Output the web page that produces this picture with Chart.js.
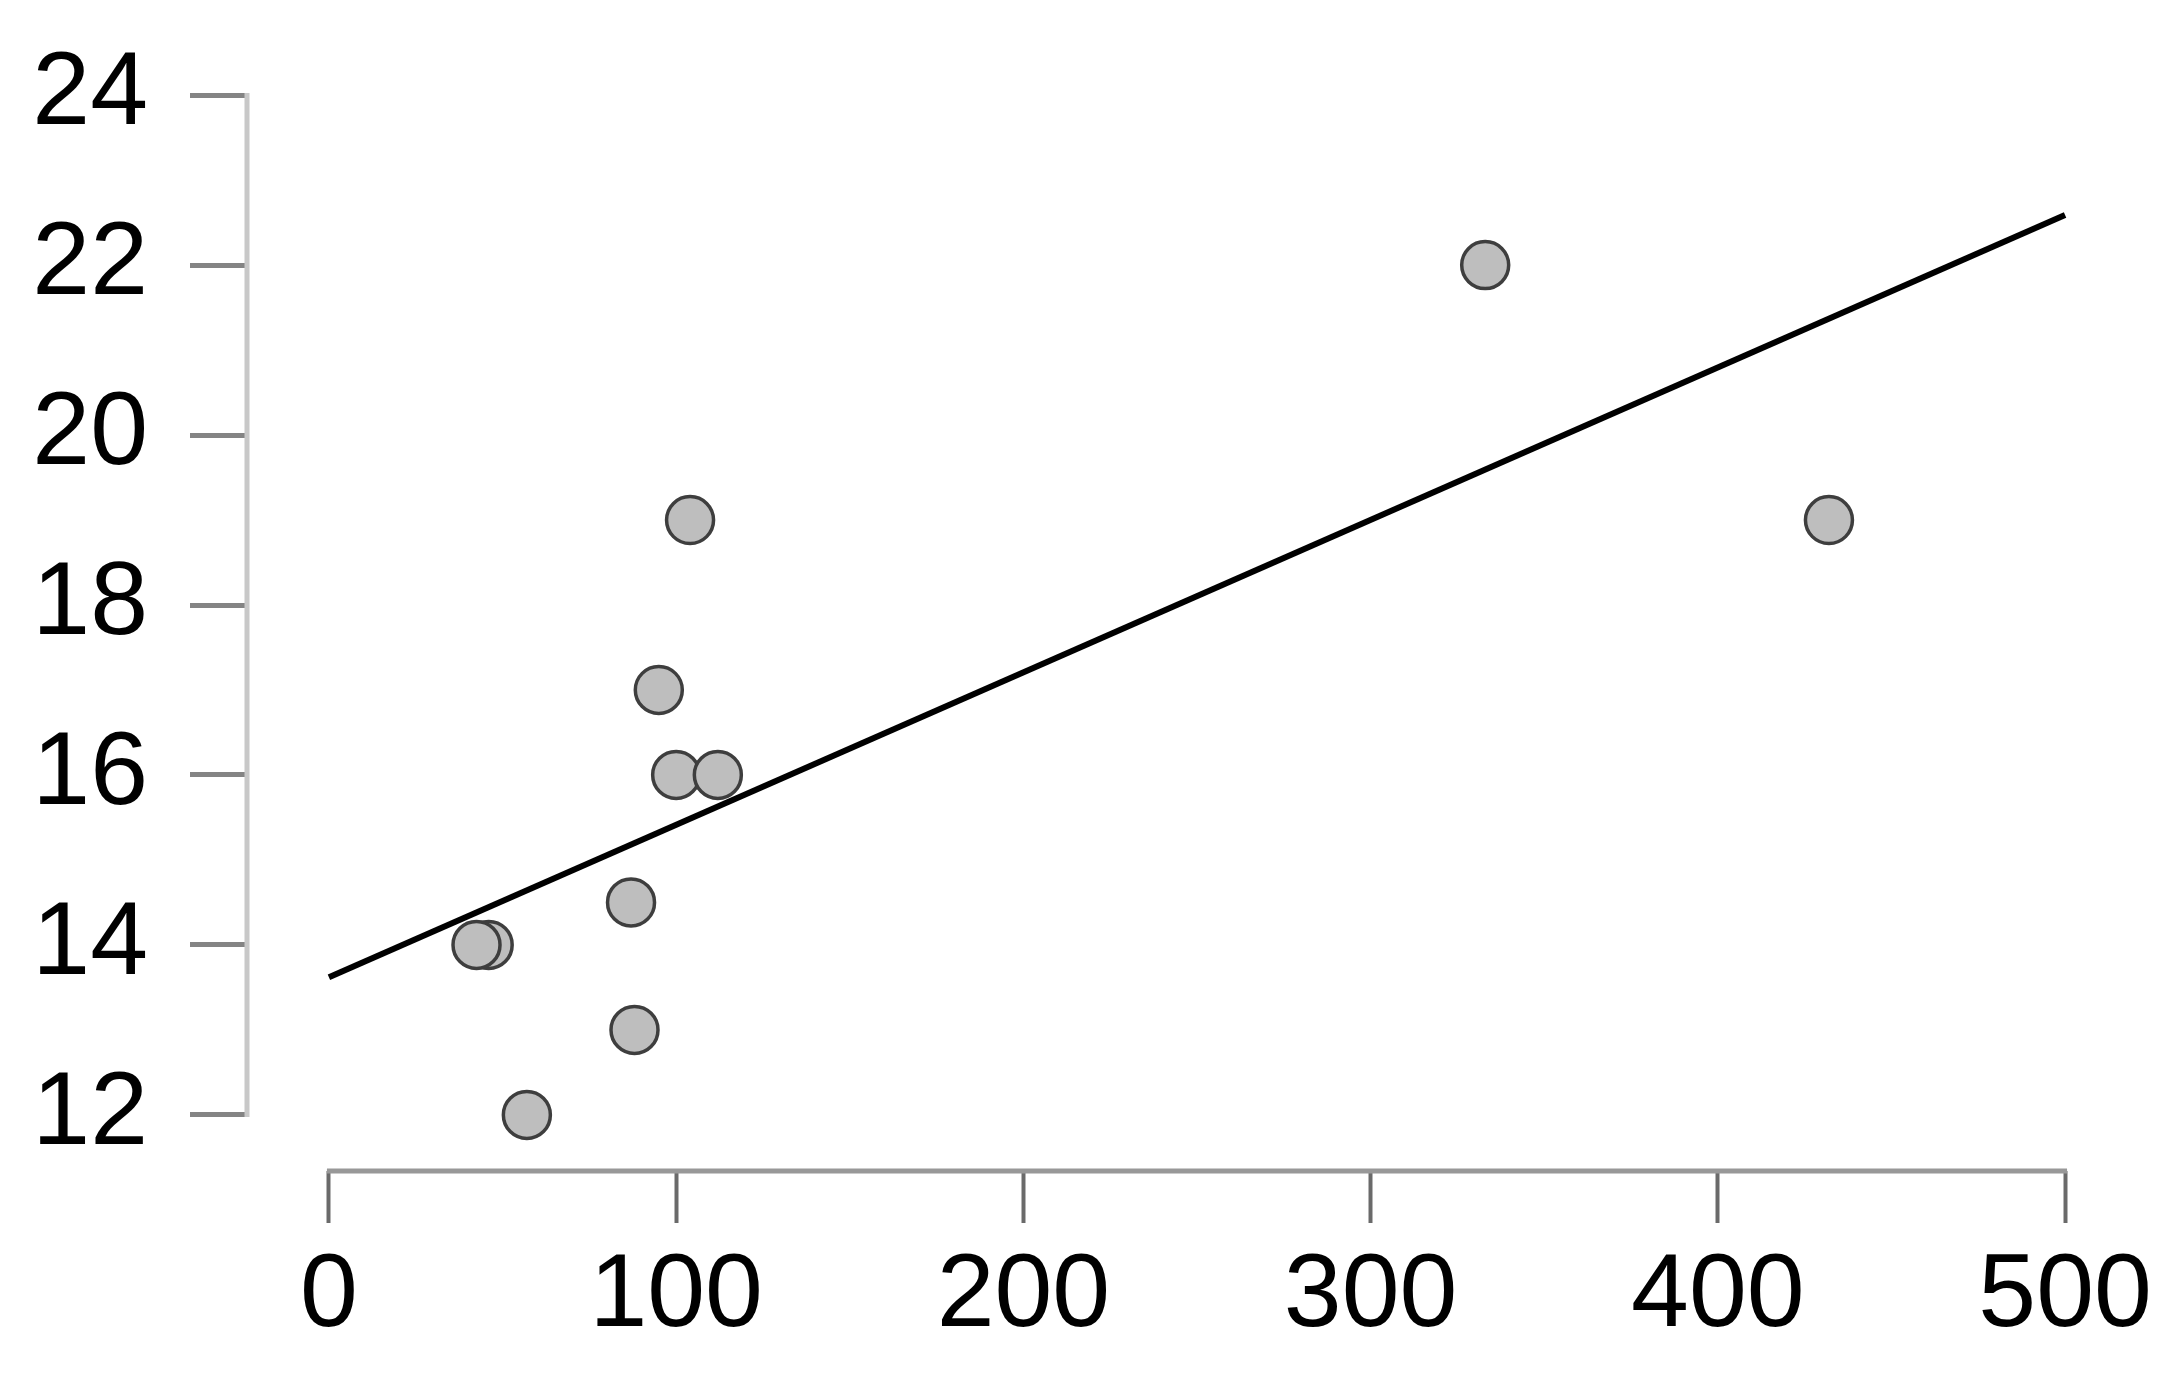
<!DOCTYPE html>
<html>
<head>
<meta charset="utf-8">
<script src="https://cdn.jsdelivr.net/npm/chart.js@4.4.1/dist/chart.umd.min.js"></script>
<style>
  html, body { margin: 0; padding: 0; background: #fff; }
  #wrap { width: 2179px; height: 1382px; }
</style>
</head>
<body>
<div id="wrap"><canvas id="nuage"></canvas></div>
<script>
// points
const xValues = [333, 432, 104, 95, 100, 112, 87, 46, 42.5, 88, 57];
const yValues = [22, 19, 19, 17, 16, 16, 14.5, 14, 14, 13, 12];

// droite de regression (extremites lues)
const fitX = [0, 500];
const fitY = [13.62, 22.59];

const xTicks = [0, 100, 200, 300, 400, 500];
const yTicks = [12, 14, 16, 18, 20, 22, 24];

const points = xValues.map((v, i) => ({x: v, y: yValues[i]}));
const droite = fitX.map((v, i) => ({x: v, y: fitY[i]}));

// axes facon R : traits limites aux graduations
const axesR = {
    id: 'axesR',
    afterDraw(chart) {
        const ctx = chart.ctx;
        const sx = chart.scales.x;
        const sy = chart.scales.y;
        ctx.save();
        ctx.lineCap = 'butt';
        ctx.lineWidth = 5;
        ctx.strokeStyle = '#c8c8c8';
        ctx.beginPath();
        ctx.moveTo(chart.chartArea.left, sy.getPixelForValue(yTicks[0]) + 2);
        ctx.lineTo(chart.chartArea.left, sy.getPixelForValue(yTicks[yTicks.length - 1]) - 2);
        ctx.stroke();
        ctx.strokeStyle = '#989898';
        ctx.beginPath();
        ctx.moveTo(sx.getPixelForValue(xTicks[0]) - 2, chart.chartArea.bottom);
        ctx.lineTo(sx.getPixelForValue(xTicks[xTicks.length - 1]) + 2, chart.chartArea.bottom);
        ctx.stroke();
        ctx.restore();
    }
};

const police = {family: "'Liberation Sans', Arial, sans-serif", size: 104};

const config = {
    type: 'scatter',
    data: {
        datasets: [{
            data: droite,
            showLine: true,
            borderColor: '#000',
            borderWidth: 6,
            pointRadius: 0,
            order: 0
        }, {
            data: points,
            pointRadius: 23.5,
            borderWidth: 3.5,
            borderColor: '#3e3e3e',
            backgroundColor: '#bebebe',
            order: 1
        }]
    },
    options: {
        responsive: true,
        maintainAspectRatio: false,
        animation: false,
        layout: {
            padding: {top: 39, right: 32, left: 0, bottom: 0}
        },
        scales: {
            x: {
                type: 'linear',
                min: -23.6,
                max: 523.6,
                afterBuildTicks: s => { s.ticks = xTicks.map(v => ({value: v})); },
                afterFit: s => {
                    s.height = 211;
                    s.paddingLeft = 0;
                    s.paddingRight = 0;
                },
                grid: {
                    drawOnChartArea: false,
                    tickLength: 52,
                    tickWidth: 4,
                    tickColor: '#6a6a6a'
                },
                border: {display: false},
                ticks: {
                    color: '#000',
                    font: police,
                    padding: 12,
                    maxRotation: 0,
                    autoSkip: false
                }
            },
            y: {
                type: 'linear',
                min: 11.34,
                max: 24.66,
                afterBuildTicks: s => { s.ticks = yTicks.map(v => ({value: v})); },
                afterFit: s => {
                    s.width = 247;
                    s.paddingTop = 0;
                    s.paddingBottom = 0;
                },
                grid: {
                    drawOnChartArea: false,
                    tickLength: 57,
                    tickWidth: 5,
                    tickColor: '#848484'
                },
                border: {display: false},
                ticks: {
                    color: '#000',
                    font: police,
                    padding: 42,
                    autoSkip: false
                }
            }
        },
        plugins: {
            legend: {display: false},
            tooltip: {enabled: false}
        }
    },
    plugins: [axesR]
};

const monGraphique = new Chart(document.getElementById('nuage'), config);
</script>
</body>
</html>
